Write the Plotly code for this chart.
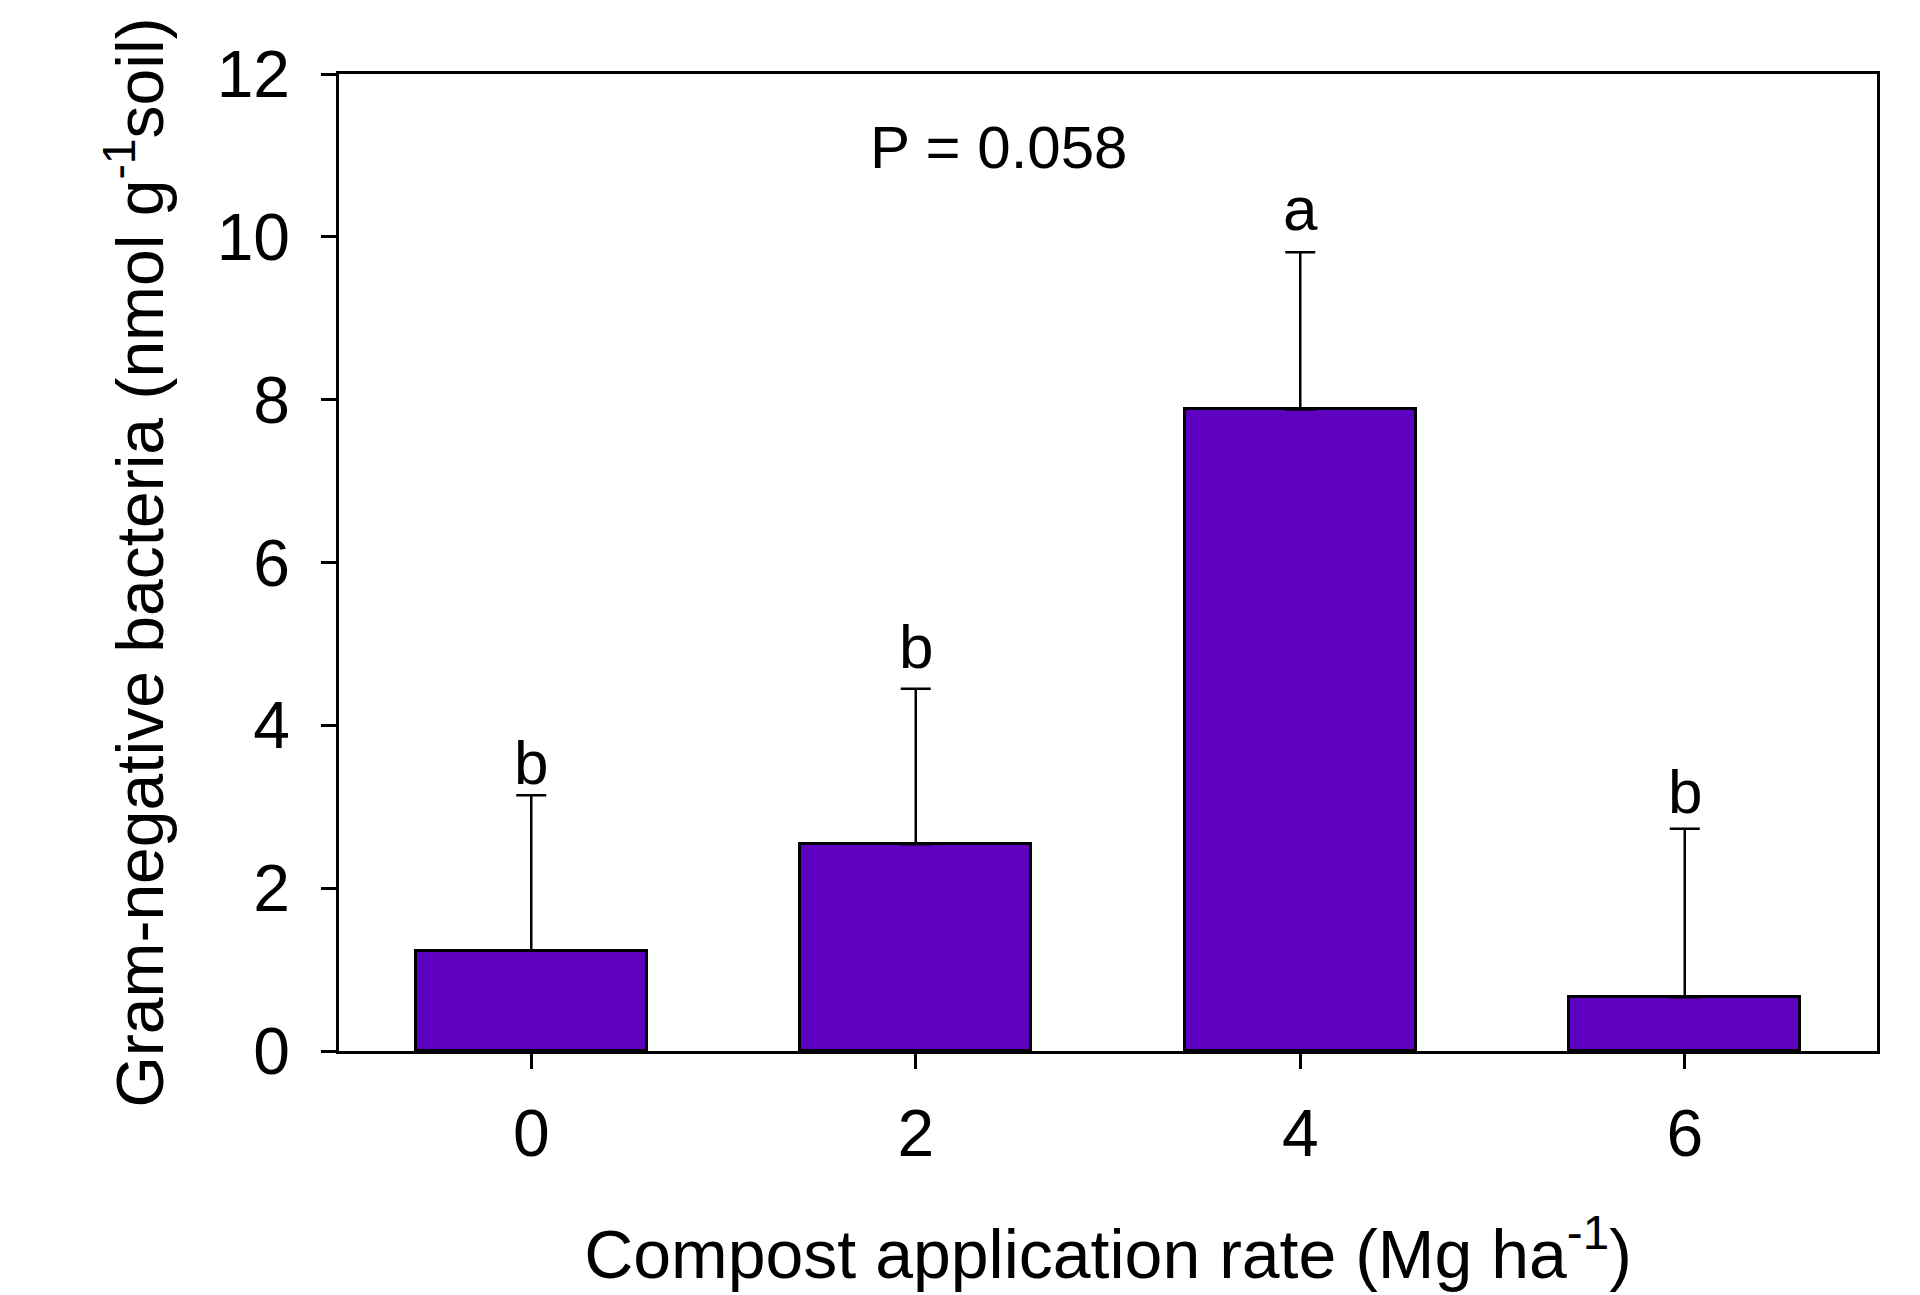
import plotly.graph_objects as go

rates = [0, 2, 4, 6]
means = [1.23, 2.54, 7.88, 0.66]
errors = [1.91, 1.91, 1.93, 2.07]
letters = ["b", "b", "a", "b"]
y_ticks = [0, 2, 4, 6, 8, 10, 12]
p_text = "P = 0.058"

# pixel offsets of the significance letters above their error caps (style)
letter_shift = [-4, 6, 7, 1]

FONT = "Liberation Sans, Arial, sans-serif"

fig = go.Figure()
fig.add_trace(go.Bar(
    x=rates, y=means, width=1.2,
    marker=dict(color="rgb(94,0,192)", line=dict(color="black", width=3)),
    error_y=dict(type="data", array=errors, symmetric=False, arrayminus=[0]*4,
                 color="black", thickness=2.5, width=15),
    showlegend=False,
))

for x, m, e, t, s in zip(rates, means, errors, letters, letter_shift):
    fig.add_annotation(x=x, y=m + e, text=t, showarrow=False,
                       yanchor="bottom", yshift=s,
                       font=dict(family=FONT, size=62, color="black"))

fig.add_annotation(x=2.43, y=11.1, text=p_text, showarrow=False,
                   font=dict(family=FONT, size=60, color="black"))

fig.update_layout(
    width=1920, height=1295,
    margin=dict(l=331, r=51, t=66, b=252),
    plot_bgcolor="white", paper_bgcolor="white",
    font=dict(family=FONT, color="black"),
    bargap=0,
)
fig.update_xaxes(
    range=[-1, 7], tickvals=rates, ticktext=[str(r) for r in rates],
    showline=True, linecolor="black", linewidth=2.5, mirror=True,
    ticks="outside", ticklen=15, tickwidth=2.5, tickcolor="black",
    showgrid=False, zeroline=False, automargin=False,
    tickfont=dict(size=66), ticklabelstandoff=8,
    title=dict(text="Compost application rate (Mg ha<sup>-1</sup>)",
               font=dict(size=68), standoff=62),
)
fig.update_yaxes(
    range=[0, 12], tickvals=y_ticks,
    showline=True, linecolor="black", linewidth=2.5, mirror=True,
    ticks="outside", ticklen=15, tickwidth=2.5, tickcolor="black",
    showgrid=False, zeroline=False, automargin=False,
    tickfont=dict(size=66), ticklabelstandoff=18,
    title=dict(text="Gram-negative bacteria (nmol g<sup>-1</sup>soil)",
               font=dict(size=66), standoff=32),
)

fig.write_html("out.html")
